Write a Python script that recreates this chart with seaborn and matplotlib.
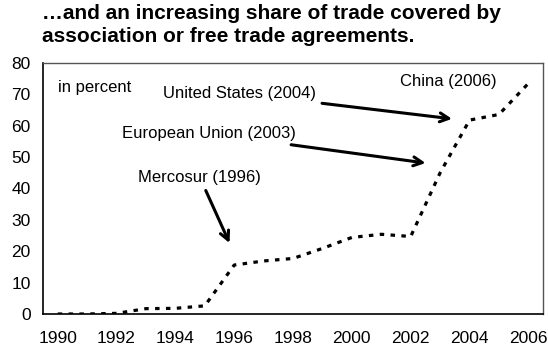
import numpy as np
import pandas as pd
import matplotlib
matplotlib.use('Agg')
import matplotlib.pyplot as plt
import seaborn as sns

# ============================================================
# DATA
# ============================================================

years = list(range(1990, 2007))
share = [0, 0, 0.2, 1.7, 1.8, 2.6, 15.6, 16.9, 17.7, 20.9, 24.4, 25.4, 24.7,
         45.0, 61.8, 63.6, 73.5]
year_labels = ['1990', '1992', '1994', '1996', '1998', '2000', '2002', '2004', '2006']
y_ticks = [0, 10, 20, 30, 40, 50, 60, 70, 80]

df = pd.DataFrame({'year': years, 'share': share})

# ============================================================
# PLOT
# ============================================================

sns.set_style('white')
plt.rcParams['font.family'] = ['Liberation Sans', 'DejaVu Sans']
plt.rcParams['text.color'] = 'black'
plt.rcParams['xtick.color'] = 'black'
plt.rcParams['ytick.color'] = 'black'
plt.rcParams['xtick.labelcolor'] = 'black'
plt.rcParams['ytick.labelcolor'] = 'black'

fig = plt.figure(figsize=(5.48, 3.52), dpi=100)
ax = fig.add_axes([0.0785, 0.108, 0.9125, 0.713])

sns.lineplot(data=df, x='year', y='share', ax=ax, color='black',
             linewidth=2.3, linestyle=(0, (1.4, 2.0)))

ax.set_xlim(1989.5, 2006.5)
ax.set_ylim(0, 80)
ax.set_xlabel('')
ax.set_ylabel('')

# category style axis: ticks between years, labels on even years
ax.set_xticks(np.arange(1989.5, 2007, 1.0))
ax.set_xticklabels([])
ax.set_xticks([int(l) for l in year_labels], minor=True)
ax.set_xticklabels(year_labels, minor=True)
ax.tick_params(axis='x', which='major', direction='out', length=5, width=1)
ax.tick_params(axis='x', which='minor', length=0, labelsize=12.5, pad=12)
ax.set_yticks(y_ticks)
ax.tick_params(axis='y', direction='out', length=5, width=1, labelsize=12.5, pad=4)

for side in ['left', 'bottom']:
    ax.spines[side].set_color('black')
    ax.spines[side].set_linewidth(1.2)
for side in ['top', 'right']:
    ax.spines[side].set_color('#555555')
    ax.spines[side].set_linewidth(1.0)

# annotations
ax.text(1990.0, 72.3, 'in percent', fontsize=12, va='center', ha='left')
ax.text(2001.64, 74, 'China (2006)', fontsize=12, va='center', ha='left')

arrow = dict(arrowstyle='->', color='black', lw=2.2, mutation_scale=16)
ax.annotate('United States (2004)', xy=(2003.5, 62.1), xytext=(1993.58, 70.3),
            fontsize=12, va='center', ha='left', arrowprops=arrow)
ax.annotate('European Union (2003)', xy=(2002.6, 48.0), xytext=(1992.19, 57.5),
            fontsize=12, va='center', ha='left', arrowprops=arrow)
ax.annotate('Mercosur (1996)', xy=(1995.88, 21.8), xytext=(1992.74, 43.6),
            fontsize=12, va='center', ha='left', arrowprops=arrow)

fig.text(0.077, 0.99, '…and an increasing share of trade covered by\nassociation or free trade agreements.',
         fontsize=15, fontweight='bold', va='top', ha='left', linespacing=1.3)

plt.savefig('out.png', dpi=100)
plt.close()
